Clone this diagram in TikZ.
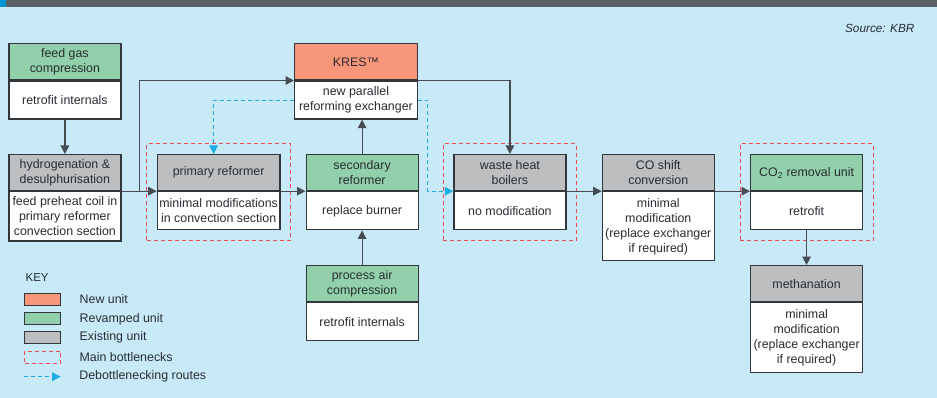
\documentclass[tikz,border=0pt]{standalone}
\usepackage{fontspec}
\setmainfont{Liberation Sans}
\usetikzlibrary{arrows.meta,positioning,fit,calc}
\definecolor{bgblue}{RGB}{200,233,248}
\definecolor{barcol}{RGB}{91,95,99}
\definecolor{accent}{RGB}{0,149,217}
\definecolor{edge}{RGB}{50,55,60}
\definecolor{conn}{RGB}{70,76,82}
\definecolor{txt}{RGB}{40,45,50}
\definecolor{newcol}{RGB}{247,150,121}
\definecolor{revcol}{RGB}{145,208,171}
\definecolor{oldcol}{RGB}{188,190,192}
\definecolor{neckcol}{RGB}{232,76,76}
\definecolor{routecol}{RGB}{27,173,230}
\begin{document}
\begin{tikzpicture}[x=1pt,y=-1pt,line width=1.2pt,
      every node/.style={inner sep=2pt,text=txt,font=\fontsize{12.4}{15}\selectfont},
      >={Triangle[length=8.5pt,width=8.5pt]},
      head/.style={draw=edge,fill=#1,minimum width=112pt,minimum height=36pt,align=center,anchor=north west},
      body/.style={draw=edge,fill=white,minimum width=112pt,align=center,below=0pt of #1},
      wide/.style={minimum width=122.7pt},
      bneck/.style={draw=neckcol,line width=1pt,dash pattern=on 4pt off 3pt,inner sep=10pt},
      route/.style={draw=routecol,line width=1pt,dash pattern=on 4pt off 3pt,->,color=routecol},
      flow/.style={draw=conn,->},
      swatch/.style={draw=edge,minimum width=36pt,minimum height=12pt,inner sep=0pt},
      keytext/.style={right=16pt of #1}]
      \fill[bgblue](0,0)rectangle(937,398);
      \useasboundingbox(0,0)rectangle(937,398);
      \fill[barcol](0,0)rectangle(937,7.5);
      \fill[accent](0,0)rectangle(6,7.5);
      \node[anchor=east,font=\itshape\fontsize{11.8}{13}\selectfont](src)at(917,28){Source: KBR};
      \node[head=revcol](feed)at(8.3,43.3){feed gas\\compression};
      \node[body=feed,minimum height=38pt](feedb){retrofit internals};
      \node[head=oldcol](hydro)at(8.3,154){hydrogenation \&\\desulphurisation};
      \node[body=hydro,minimum height=49.3pt](hydrob){feed preheat coil in\\primary reformer\\convection section};
      \node[head=oldcol,wide](prim)at(156.7,154){primary reformer};
      \node[body=prim,wide,minimum height=38pt](primb){minimal modifications\\in convection section};
      \node[head=newcol,wide](kres)at(294,43.3){KRES™};
      \node[body=kres,wide,minimum height=38pt](kresb){new parallel\\reforming exchanger};
      \node[head=revcol](sec)at(305.5,154){secondary\\reformer};
      \node[body=sec,minimum height=38pt](secb){replace burner};
      \node[head=revcol](air)at(305.5,265){process air\\compression};
      \node[body=air,minimum height=38pt](airb){retrofit internals};
      \node[head=oldcol](whb)at(453.3,154){waste heat\\boilers};
      \node[body=whb,minimum height=38pt](whbb){no modification};
      \node[head=oldcol](shift)at(601.7,154){CO shift\\conversion};
      \node[body=shift,minimum height=69pt](shiftb){minimal\\modification\\(replace exchanger\\if required)};
      \node[head=revcol](co2)at(750,154){CO\textsubscript{2} removal unit};
      \node[body=co2,minimum height=38pt](co2b){retrofit};
      \node[head=oldcol](meth)at(750,265){methanation};
      \node[body=meth,minimum height=70pt](methb){minimal\\modification\\(replace exchanger\\if required)};
      \node[bneck,fit=(prim)(primb)](primneck){};
      \node[bneck,fit=(whb)(whbb)](whbneck){};
      \node[bneck,fit=(co2)(co2b)](co2neck){};
      \coordinate(tee)at($(hydro.south east)+(18.3,0)$);
      \draw[flow](feedb)--(hydro);
      \draw[flow](hydro.south east)--(prim.south west);
      \draw[flow](tee)|-(kres.south west);
      \draw[flow](prim.south east)--(sec.south west);
      \draw[flow](sec)--(sec|-kresb.south);
      \draw[flow](air)--(secb);
      \draw[flow](kres.south east)-|(whb.north);
      \draw[flow](whb.south east)--(shift.south west);
      \draw[flow](shift.south east)--(co2.south west);
      \draw[flow](co2b)--(meth);
      \draw[route](kresb.west)-|([xshift=-5pt]prim.north);
      \draw[route](kresb.east)--++(10,0)|-(whb.south west);
      \node[anchor=west,font=\fontsize{11.5}{13}\selectfont](key)at(23,278){KEY};
      \node[swatch,fill=newcol](knew)at(42.5,299.2){};
      \node[keytext=knew](tnew){New unit};
      \node[swatch,fill=revcol](krev)at(42.5,318.8){};
      \node[keytext=krev](trev){Revamped unit};
      \node[swatch,fill=oldcol](kold)at(42.5,337.2){};
      \node[keytext=kold](told){Existing unit};
      \node[swatch,draw=neckcol,line width=1pt,dash pattern=on 4pt off 3pt](kneck)at(42.5,357.2){};
      \node[keytext=kneck](tneck){Main bottlenecks};
      \coordinate(ka)at(24.3,376.7);
      \coordinate(kb)at(60.7,376.7);
      \draw[route](ka)--(kb);
      \node[right=16pt of kb](troute){Debottlenecking routes};
    \end{tikzpicture}
\end{document}
